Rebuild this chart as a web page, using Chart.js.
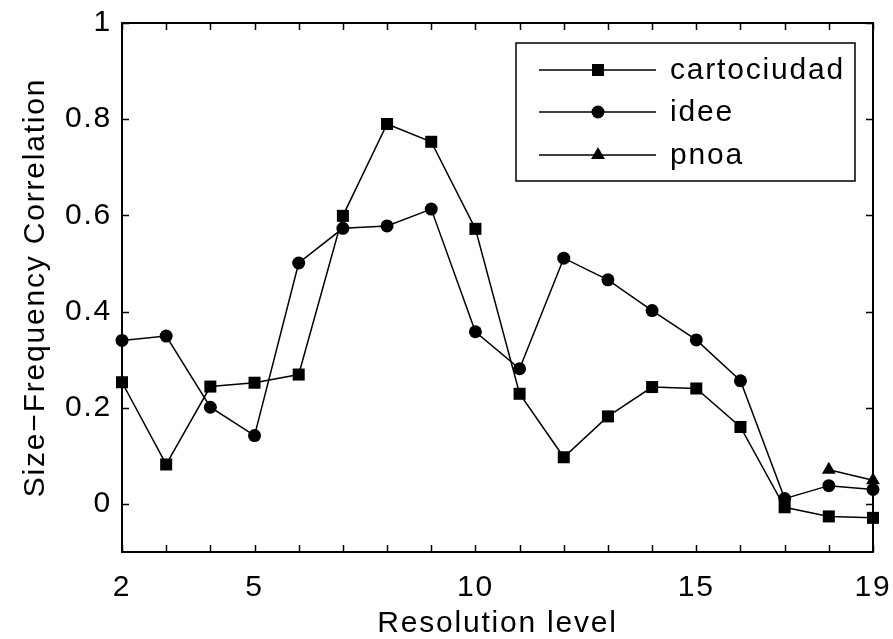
<!DOCTYPE html>
<html>
<head>
<meta charset="utf-8">
<script src="https://cdn.jsdelivr.net/npm/chart.js@4/dist/chart.umd.min.js"></script>
<style>
  html, body { margin: 0; padding: 0; background: #fff; }
  #wrap { width: 893px; height: 639px; position: relative; }
</style>
</head>
<body>
<div id="wrap"><canvas id="chart"></canvas></div>
<script>
const levels = [2, 3, 4, 5, 6, 7, 8, 9, 10, 11, 12, 13, 14, 15, 16, 17, 18, 19];
const cartociudad = [0.253, 0.082, 0.244, 0.252, 0.269, 0.599, 0.790, 0.753, 0.572, 0.229, 0.097, 0.182, 0.243, 0.240, 0.160, -0.007, -0.026, -0.029];
const idee = [0.340, 0.349, 0.201, 0.142, 0.501, 0.573, 0.578, 0.613, 0.358, 0.281, 0.511, 0.466, 0.402, 0.341, 0.256, 0.011, 0.038, 0.030];
const pnoa = [null, null, null, null, null, null, null, null, null, null, null, null, null, null, null, null, 0.071, 0.049];
const xLabelTicks = [2, 5, 10, 15, 19];
const yTicks = [0, 0.2, 0.4, 0.6, 0.8, 1];

const FONT = 'Liberation Sans, Arial, Helvetica, sans-serif';
const FONT_SIZE = 30;
const SPACING = '1.8px';

function toPoints(values) {
  return levels.map((x, i) => ({ x: x, y: values[i] }));
}

function series(label, values, style, radius) {
  return {
    label: label,
    data: toPoints(values),
    borderColor: '#000',
    backgroundColor: '#000',
    borderWidth: 1.5,
    pointStyle: style,
    pointRadius: radius,
    pointBorderWidth: 0,
    pointBackgroundColor: '#000',
    pointBorderColor: '#000',
    tension: 0,
    clip: false,
  };
}

// the text is set a little wider than plain helvetica
const wideText = {
  id: 'wideText',
  beforeUpdate(chart) { chart.ctx.letterSpacing = SPACING; },
  beforeDraw(chart) { chart.ctx.letterSpacing = SPACING; },
};

// matlab-style frame: box round the plot, tick marks pointing inward on all four sides
const frame = {
  id: 'frame',
  afterDatasetsDraw(chart) {
    const { ctx, chartArea: a, scales } = chart;
    const len = 7;
    ctx.save();
    ctx.strokeStyle = '#000';
    ctx.lineWidth = 1.5;
    ctx.beginPath();
    scales.x.ticks.forEach(t => {
      const px = Math.round(scales.x.getPixelForValue(t.value)) + 0.5;
      ctx.moveTo(px, a.bottom); ctx.lineTo(px, a.bottom - len);
      ctx.moveTo(px, a.top); ctx.lineTo(px, a.top + len);
    });
    scales.y.ticks.forEach(t => {
      const py = Math.round(scales.y.getPixelForValue(t.value)) + 0.5;
      ctx.moveTo(a.left, py); ctx.lineTo(a.left + len, py);
      ctx.moveTo(a.right, py); ctx.lineTo(a.right - len, py);
    });
    ctx.stroke();
    ctx.lineWidth = 2;
    ctx.strokeRect(a.left, a.top, a.right - a.left, a.bottom - a.top);
    ctx.restore();
  }
};

// boxed legend in the upper right corner
const boxLegend = {
  id: 'boxLegend',
  afterDraw(chart) {
    const { ctx } = chart;
    const box = { left: 516, top: 43, right: 855, bottom: 181 };
    const rows = [70, 112, 155];
    ctx.save();
    ctx.fillStyle = '#fff';
    ctx.fillRect(box.left, box.top, box.right - box.left, box.bottom - box.top);
    ctx.strokeStyle = '#000';
    ctx.lineWidth = 1.5;
    ctx.strokeRect(box.left, box.top, box.right - box.left, box.bottom - box.top);
    chart.data.datasets.forEach((ds, i) => {
      const y = rows[i];
      ctx.strokeStyle = '#000';
      ctx.lineWidth = 1.5;
      ctx.beginPath();
      ctx.moveTo(539, y); ctx.lineTo(656, y);
      ctx.stroke();
      ctx.fillStyle = '#000';
      Chart.helpers.drawPoint(ctx, {
        pointStyle: ds.pointStyle, radius: ds.pointRadius, borderWidth: 0, rotation: 0
      }, 598, y);
      ctx.fillStyle = '#000';
      ctx.font = FONT_SIZE + 'px ' + FONT;
      ctx.textBaseline = 'middle';
      ctx.textAlign = 'left';
      ctx.fillText(ds.label, 670, y + 1);
    });
    ctx.restore();
  }
};

new Chart(document.getElementById('chart'), {
  type: 'line',
  data: {
    datasets: [
      series('cartociudad', cartociudad, 'rect', 8.5),
      series('idee', idee, 'circle', 6.5),
      series('pnoa', pnoa, 'triangle', 8),
    ]
  },
  options: {
    responsive: true,
    maintainAspectRatio: false,
    animation: false,
    spanGaps: false,
    layout: { padding: { top: 23, right: 20, left: 0, bottom: 0 } },
    plugins: {
      legend: { display: false },
      tooltip: { enabled: false },
    },
    scales: {
      x: {
        type: 'linear',
        min: 2,
        max: 19,
        afterBuildTicks: s => { s.ticks = levels.map(v => ({ value: v })); },
        afterFit: s => {
          s.height = 87;
          s.paddingLeft = 0;
          s.paddingRight = 0;
        },
        grid: { display: false, drawTicks: false },
        border: { display: false },
        ticks: {
          autoSkip: false,
          maxRotation: 0,
          padding: 18,
          color: '#000',
          font: { family: FONT, size: FONT_SIZE },
          callback: v => xLabelTicks.includes(v) ? String(v) : '',
        },
        title: {
          display: true,
          text: 'Resolution level',
          color: '#000',
          font: { family: FONT, size: FONT_SIZE, lineHeight: 1 },
          padding: { top: 0, bottom: 0 },
        },
      },
      y: {
        type: 'linear',
        min: -0.1,
        max: 1,
        afterBuildTicks: s => { s.ticks = yTicks.map(v => ({ value: v })); },
        afterFit: s => {
          s.width = 122;
          s.paddingTop = 0;
          s.paddingBottom = 0;
        },
        grid: { display: false, drawTicks: false },
        border: { display: false },
        ticks: {
          padding: 10,
          color: '#000',
          font: { family: FONT, size: FONT_SIZE },
          callback: v => String(v),
        },
        title: {
          display: true,
          text: 'Size\u2212Frequency Correlation',
          color: '#000',
          font: { family: FONT, size: FONT_SIZE, lineHeight: 1 },
          padding: { top: 21, bottom: 0 },
        },
      },
    },
  },
  plugins: [wideText, frame, boxLegend],
});
</script>
</body>
</html>
